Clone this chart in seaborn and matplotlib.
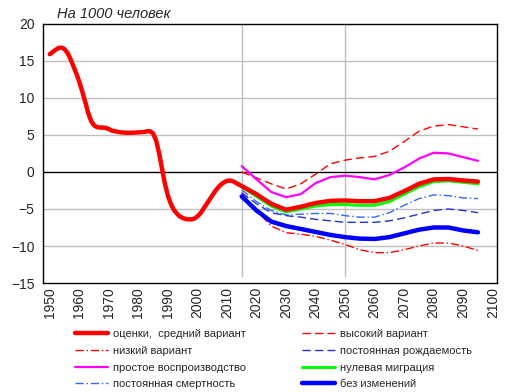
import numpy as np
import pandas as pd
import matplotlib
matplotlib.use("Agg")
import matplotlib.pyplot as plt
import seaborn as sns

# === данные (на 1000 человек) ===
hist_years = [1950, 1951, 1952, 1953, 1954, 1955, 1956, 1957, 1958, 1959, 1960,
              1961, 1962, 1963, 1964, 1965, 1966, 1967, 1968, 1969, 1970, 1971,
              1972, 1974, 1976, 1978, 1980, 1982, 1983, 1984, 1985, 1986, 1987,
              1988, 1989, 1990, 1991, 1992, 1993, 1994, 1995, 1996, 1997, 1998,
              1999, 2000, 2001, 2002, 2003, 2004, 2005, 2006, 2007, 2008, 2009,
              2010, 2011, 2012, 2013, 2014]
hist_vals = [15.9, 16.2, 16.5, 16.75, 16.8, 16.6, 16.1, 15.3, 14.3, 13.3, 12.2,
             10.9, 9.5, 8.0, 6.9, 6.3, 6.05, 6.0, 6.0, 5.95, 5.8, 5.6,
             5.5, 5.35, 5.3, 5.3, 5.35, 5.4, 5.5, 5.5, 5.2, 4.3, 2.6,
             0.5, -1.6, -3.2, -4.3, -5.1, -5.6, -6.0, -6.2, -6.35, -6.4, -6.4,
             -6.3, -6.0, -5.6, -5.0, -4.4, -3.8, -3.2, -2.6, -2.1, -1.7, -1.4,
             -1.2, -1.15, -1.25, -1.45, -1.7]

proj_years = [2015, 2020, 2025, 2030, 2035, 2040, 2045, 2050, 2055,
              2060, 2065, 2070, 2075, 2080, 2085, 2090, 2095]
medium = [-1.9, -3.0, -4.3, -5.1, -4.7, -4.2, -3.9, -3.85, -3.95,
          -3.95, -3.5, -2.6, -1.6, -1.0, -0.95, -1.15, -1.3]
high = [0.0, -0.8, -1.6, -2.3, -1.6, -0.3, 1.1, 1.6, 1.9,
        2.1, 2.8, 4.1, 5.5, 6.2, 6.4, 6.1, 5.8]
low = [-2.8, -5.2, -7.3, -8.2, -8.4, -8.7, -9.2, -9.8, -10.5,
       -10.9, -10.9, -10.5, -10.0, -9.6, -9.6, -10.0, -10.6]
simple_repr = [0.8, -1.0, -2.7, -3.4, -3.0, -1.5, -0.7, -0.5, -0.7,
               -1.0, -0.4, 0.6, 1.8, 2.6, 2.5, 2.0, 1.5]
const_mort = [-2.4, -4.0, -5.2, -5.8, -5.7, -5.6, -5.6, -5.9, -6.1,
              -6.1, -5.5, -4.5, -3.6, -3.1, -3.2, -3.5, -3.6]
const_fert = [-2.8, -4.3, -5.5, -5.9, -6.1, -6.4, -6.6, -6.8, -6.8,
              -6.8, -6.6, -6.2, -5.7, -5.2, -5.0, -5.2, -5.5]
zero_migr = [-2.0, -3.3, -4.6, -5.4, -5.0, -4.6, -4.4, -4.4, -4.5,
             -4.5, -4.0, -3.0, -2.0, -1.3, -1.2, -1.4, -1.6]
no_change = [-3.3, -5.2, -6.7, -7.3, -7.7, -8.1, -8.5, -8.8, -9.0,
             -9.05, -8.8, -8.3, -7.8, -7.5, -7.5, -7.9, -8.15]

x_ticks = list(range(1950, 2101, 10))

sns.set_style("white")
plt.rcParams['font.family'] = ['Liberation Sans', 'DejaVu Sans']

fig = plt.figure(figsize=(5.11, 3.92), dpi=100)
ax = fig.add_axes([0.084, 0.278, 0.889, 0.661])

# сетка
for yv in [-10, -5, 5, 10, 15]:
    ax.axhline(yv, color='#BFBFBF', lw=1, zorder=0)
ax.axhline(0, color='black', lw=1, zorder=0.5)
for xv in [2015, 2050]:
    ax.plot([xv, xv], [-14, 20], color='#BFBFBF', lw=1, zorder=0)

med_all_x = hist_years + proj_years
med_all_y = hist_vals + medium

series = [
    ('высокий вариант', proj_years, high, '#FF0000', 1.0, (0, (6, 3))),
    ('низкий вариант', proj_years, low, '#FF0000', 1.0, (0, (6, 2, 1, 2))),
    ('простое воспроизводство', proj_years, simple_repr, '#FF00FF', 1.6, '-'),
    ('постоянная смертность', proj_years, const_mort, '#3366FF', 1.0, (0, (6, 2, 1, 2))),
    ('постоянная рождаемость', proj_years, const_fert, '#2233CC', 1.0, (0, (6, 3))),
    ('нулевая миграция', proj_years, zero_migr, '#00FF00', 2.2, '-'),
    ('оценки,  средний вариант', med_all_x, med_all_y, '#FF0000', 3.2, '-'),
    ('без изменений', proj_years, no_change, '#0000FF', 3.2, '-'),
]

handles = {}
for name, xs, ys, col, lw, ls in series:
    sns.lineplot(x=xs, y=ys, ax=ax, color=col, lw=lw, linestyle=ls,
                 solid_capstyle='round', solid_joinstyle='round', label=name)
    handles[name] = ax.get_lines()[-1]

ax.set_xlim(1947.7, 2101.5)
ax.set_ylim(-15, 20)
ax.set_yticks(range(-15, 21, 5))
ax.set_xticks(x_ticks)
ax.set_xticklabels([str(t) for t in x_ticks], rotation=90, fontsize=10)
ax.tick_params(axis='y', labelsize=10, length=0, pad=6)
ax.tick_params(axis='x', length=0, pad=3)
for sp in ax.spines.values():
    sp.set_color('black')
    sp.set_linewidth(1)
ax.set_xlabel('')
ax.set_ylabel('')
ax.legend_.remove()

ax.text(0.03, 1.01, 'На 1000 человек', transform=ax.transAxes,
        fontsize=10.5, style='italic', ha='left', va='bottom')

order = ['оценки,  средний вариант', 'низкий вариант', 'простое воспроизводство',
         'постоянная смертность', 'высокий вариант', 'постоянная рождаемость',
         'нулевая миграция', 'без изменений']
fig.legend([handles[n] for n in order], order, ncol=2, frameon=False,
           loc='upper left', bbox_to_anchor=(0.147, 0.16), fontsize=8,
           handlelength=3.0, handletextpad=0.45, columnspacing=5.0,
           labelspacing=0.6, borderaxespad=0, borderpad=0)

fig.savefig('out.png', dpi=100)
